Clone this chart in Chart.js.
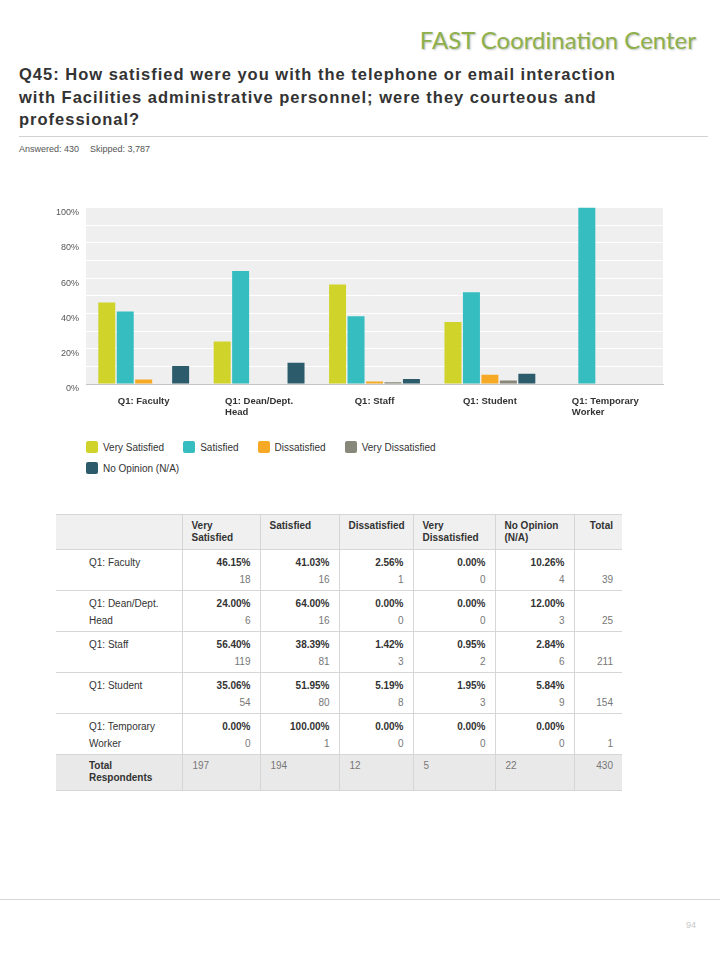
<!DOCTYPE html>
<html>
<head>
<meta charset="utf-8">
<script src="https://cdn.jsdelivr.net/npm/chart.js@4/dist/chart.umd.min.js"></script>
<style>
  body { margin: 0; width: 720px; height: 960px; background: #fff; position: relative; font-family: "Liberation Sans", Arial, sans-serif; overflow: hidden; }
  .brand { position: absolute; top: 25px; right: 24px; font: 24px Lato, "Open Sans", sans-serif; color: #8db04b; text-shadow: 1px 1px 2px rgba(0,0,0,0.25); }
  .titulo { position: absolute; left: 19px; top: 63px; width: 700px; font-weight: bold; font-size: 16.5px; letter-spacing: 1px; line-height: 22.5px; color: #333; }
  .linha { position: absolute; left: 19px; top: 136px; width: 689px; height: 1px; background: #d2d2d2; }
  .respostas { position: absolute; left: 19px; top: 144px; font-size: 9px; color: #555; }
  .respostas span + span { margin-left: 11px; }
  .grafico { position: absolute; left: 40px; top: 195px; width: 640px; height: 228px; }
  .legenda { position: absolute; left: 86px; top: 441px; width: 400px; display: flex; flex-wrap: wrap; }
  .legenda__item { display: flex; align-items: center; height: 12px; margin: 0 19px 9px 0; font-size: 10px; color: #333; }
  .legenda__cor { width: 12px; height: 12px; border-radius: 2px; margin-right: 5px; }
  table { position: absolute; left: 56px; top: 514px; width: 566px; border-collapse: collapse; table-layout: fixed; font-size: 10px; color: #333; }
  th { background: #f0f0f0; text-align: left; vertical-align: top; padding: 5px 9px 5px 9px; line-height: 12px; border-top: 1px solid #d6d6d6; border-left: 1px solid #d6d6d6; }
  th:first-child, td:first-child { border-left: none; }
  td { vertical-align: top; text-align: right; padding: 4px 9px 2px 9px; line-height: 17px; border-top: 1px solid #d6d6d6; border-left: 1px solid #d6d6d6; }
  td.rotulo { text-align: left; padding-left: 33px; }
  td .pct { font-weight: bold; }
  td .qtd { color: #777; }
  tr.total td { background: #e9e9e9; line-height: 12px; padding: 5px 9px 6px 10px; text-align: left; color: #777; border-bottom: 1px solid #d6d6d6; }
  tr.total td.rotulo { font-weight: bold; color: #333; padding-left: 33px; }
  tr.total td:last-child { text-align: right; }
  .rodape { position: absolute; left: 0; top: 899px; width: 720px; height: 1px; background: #d6d6d6; }
  .pagina { position: absolute; left: 686px; top: 920px; font-size: 9px; color: #c8c8c8; }
</style>
</head>
<body>
<div class="brand">FAST Coordination Center</div>
<div class="titulo">Q45: How satisfied were you with the telephone or email interaction<br>with Facilities administrative personnel; were they courteous and<br>professional?</div>
<div class="linha"></div>
<div class="respostas"><span>Answered: 430</span><span>Skipped: 3,787</span></div>
<div class="grafico"><canvas id="grafico-q45" width="640" height="228"></canvas></div>
<div class="legenda" id="legenda"></div>
<table id="tabela"></table>
<div class="rodape"></div>
<div class="pagina">94</div>

<script>
const categorias = ['Q1: Faculty', 'Q1: Dean/Dept. Head', 'Q1: Staff', 'Q1: Student', 'Q1: Temporary Worker'];
const rotulosEixo = ['Q1: Faculty', ['Q1: Dean/Dept.', 'Head'], 'Q1: Staff', 'Q1: Student', ['Q1: Temporary', 'Worker']];
const respostas = ['Very Satisfied', 'Satisfied', 'Dissatisfied', 'Very Dissatisfied', 'No Opinion (N/A)'];
const cabecalhos = [['Very', 'Satisfied'], ['Satisfied'], ['Dissatisfied'], ['Very', 'Dissatisfied'], ['No Opinion', '(N/A)']];

const pctMuitoSatisfeito = [46.15, 24.00, 56.40, 35.06, 0.00];
const pctSatisfeito = [41.03, 64.00, 38.39, 51.95, 100.00];
const pctInsatisfeito = [2.56, 0.00, 1.42, 5.19, 0.00];
const pctMuitoInsatisfeito = [0.00, 0.00, 0.95, 1.95, 0.00];
const pctSemOpiniao = [10.26, 12.00, 2.84, 5.84, 0.00];

const qtdMuitoSatisfeito = [18, 6, 119, 54, 0];
const qtdSatisfeito = [16, 16, 81, 80, 1];
const qtdInsatisfeito = [1, 0, 3, 8, 0];
const qtdMuitoInsatisfeito = [0, 0, 2, 3, 0];
const qtdSemOpiniao = [4, 3, 6, 9, 0];
const totaisLinha = [39, 25, 211, 154, 1];
const totaisColuna = [197, 194, 12, 5, 22, 430];

const ticksY = [0, 20, 40, 60, 80, 100];
const cores = ['#cfd32a', '#35bdc0', '#f6a925', '#87887a', '#2c5c6b'];

const porcentagens = [pctMuitoSatisfeito, pctSatisfeito, pctInsatisfeito, pctMuitoInsatisfeito, pctSemOpiniao];
const quantidades = [qtdMuitoSatisfeito, qtdSatisfeito, qtdInsatisfeito, qtdMuitoInsatisfeito, qtdSemOpiniao];

const fonte = '"Liberation Sans", Arial, sans-serif';

// fundo cinza da área de plotagem
const fundoPlot = {
  id: 'fundoPlot',
  beforeDraw(chart) {
    const { ctx, chartArea: a } = chart;
    ctx.save();
    ctx.fillStyle = '#efefef';
    ctx.fillRect(a.left, a.top, a.right - a.left, a.bottom - a.top);
    ctx.restore();
  }
};

// rótulos do eixo x: bloco centrado, linhas alinhadas à esquerda
const rotulosX = {
  id: 'rotulosX',
  afterDraw(chart) {
    const { ctx, chartArea: a } = chart;
    const escala = chart.scales.x;
    ctx.save();
    ctx.font = 'bold 9.5px ' + fonte;
    ctx.fillStyle = '#333';
    ctx.textBaseline = 'middle';
    ctx.textAlign = 'left';
    rotulosEixo.forEach((r, i) => {
      const linhas = Array.isArray(r) ? r : [r];
      const larg = Math.max(...linhas.map(l => ctx.measureText(l).width));
      const x = escala.getPixelForTick(i) - larg / 2;
      linhas.forEach((l, j) => ctx.fillText(l, x, a.bottom + 17 + j * 11));
    });
    ctx.restore();
  }
};

const grafico = new Chart(document.getElementById('grafico-q45'), {
  type: 'bar',
  data: {
    labels: categorias,
    datasets: respostas.map((nome, k) => ({
      label: nome,
      data: porcentagens[k],
      backgroundColor: cores[k],
      borderWidth: 0,
      categoryPercentage: 0.8,
      barPercentage: 0.92
    }))
  },
  options: {
    responsive: false,
    animation: false,
    layout: { padding: { top: 10, right: 17, left: 0, bottom: 0 } },
    plugins: { legend: { display: false }, tooltip: { enabled: false } },
    scales: {
      x: {
        ticks: { display: false },
        grid: { display: false },
        border: { color: '#c4c4c4', width: 1 },
        afterFit: s => { s.height = 39; }
      },
      y: {
        min: 0,
        max: 100,
        ticks: {
          stepSize: 10,
          callback: v => ticksY.includes(v) ? v + '%' : '',
          font: { size: 9, family: fonte },
          color: '#555',
          padding: 7,
          labelOffset: 5
        },
        grid: { color: '#ffffff', lineWidth: 1, drawTicks: false },
        border: { display: false },
        afterFit: s => { s.width = 46; }
      }
    }
  },
  plugins: [fundoPlot, rotulosX]
});

// legenda em HTML a partir dos datasets
document.getElementById('legenda').innerHTML = grafico.data.datasets.map(d => `
  <div class="legenda__item"><span class="legenda__cor" style="background:${d.backgroundColor}"></span>${d.label}</div>
`).join('');

// tabela de resultados
let html = '<colgroup><col style="width:126px"><col style="width:78px"><col style="width:79px"><col style="width:74px"><col style="width:82px"><col style="width:79px"><col style="width:48px"></colgroup>';
html += '<tr><th></th>' + cabecalhos.map(c => `<th>${c.join('<br>')}</th>`).join('') + '<th style="text-align:right">Total</th></tr>';
categorias.forEach((cat, i) => {
  html += `<tr><td class="rotulo">${cat}</td>`;
  porcentagens.forEach((serie, k) => {
    html += `<td><div class="pct">${serie[i].toFixed(2)}%</div><div class="qtd">${quantidades[k][i]}</div></td>`;
  });
  html += `<td><div>&nbsp;</div><div class="qtd">${totaisLinha[i]}</div></td></tr>`;
});
html += '<tr class="total"><td class="rotulo">Total<br>Respondents</td>' + totaisColuna.map(t => `<td>${t}</td>`).join('') + '</tr>';
document.getElementById('tabela').innerHTML = html;
</script>
</body>
</html>
